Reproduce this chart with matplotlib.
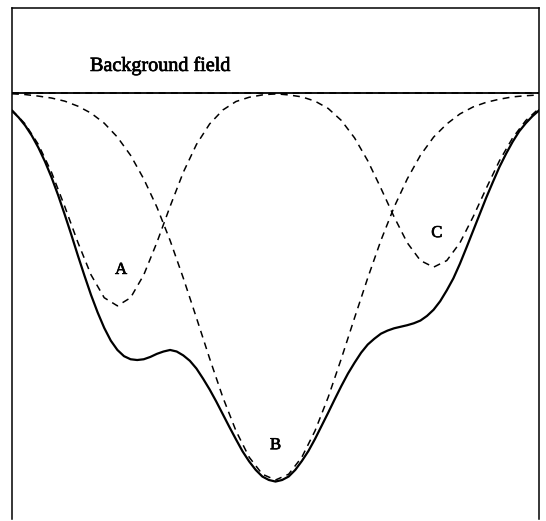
import numpy as np
import matplotlib
matplotlib.use("Agg")
import matplotlib.pyplot as plt
import matplotlib.patheffects as pe


# Posiciones a lo largo del perfil (unidades arbitrarias, 0 a 100).
x = np.arange(0, 100.1, 2.5)        # curvas a trazos
x_fino = np.arange(0, 100.1, 1.25)  # curva total

# Anomalias individuales (curvas a trazos).
anom_A = [-0.44, -0.80, -1.33, -2.05, -2.93, -3.86, -4.70, -5.29, -5.50, -5.29,
          -4.70, -3.86, -2.93, -2.05, -1.33, -0.80, -0.44, -0.22, -0.11, -0.05,
          -0.02, -0.01, 0.00, 0.00, 0.00, 0.00, 0.00, 0.00, 0.00, 0.00,
          0.00, 0.00, 0.00, 0.00, 0.00, 0.00, 0.00, 0.00, 0.00, 0.00, 0.00]
anom_B = [-0.02, -0.04, -0.08, -0.13, -0.21, -0.34, -0.52, -0.78, -1.14, -1.61,
          -2.22, -2.95, -3.81, -4.78, -5.81, -6.86, -7.86, -8.73, -9.41, -9.85,
          -10.0, -9.85, -9.41, -8.73, -7.86, -6.86, -5.81, -4.78, -3.81, -2.95,
          -2.22, -1.61, -1.14, -0.80, -0.54, -0.36, -0.24, -0.16, -0.10, -0.07, -0.05]
anom_C = [0.00, 0.00, 0.00, 0.00, 0.00, 0.00, 0.00, 0.00, 0.00, 0.00,
          0.00, 0.00, 0.00, 0.00, 0.00, 0.00, 0.00, 0.00, 0.00, -0.01,
          -0.02, -0.05, -0.10, -0.21, -0.40, -0.71, -1.16, -1.75, -2.46, -3.20,
          -3.87, -4.33, -4.50, -4.33, -3.87, -3.20, -2.46, -1.75, -1.16, -0.71, -0.40]

# Anomalia total (curva continua).
total = [-0.46, -0.63, -0.84, -1.10, -1.41, -1.77, -2.18, -2.64, -3.14, -3.66,
         -4.20, -4.72, -5.22, -5.67, -6.07, -6.40, -6.64, -6.80, -6.88, -6.90,
         -6.88, -6.82, -6.74, -6.68, -6.64, -6.68, -6.78, -6.92, -7.12, -7.38,
         -7.66, -7.97, -8.30, -8.63, -8.95, -9.26, -9.52, -9.74, -9.91, -10.00,
         -10.04, -10.00, -9.91, -9.74, -9.51, -9.25, -8.94, -8.60, -8.26, -7.91,
         -7.57, -7.25, -6.97, -6.71, -6.50, -6.35, -6.22, -6.14, -6.08, -6.04,
         -6.00, -5.95, -5.88, -5.76, -5.60, -5.38, -5.10, -4.79, -4.41, -3.99,
         -3.56, -3.13, -2.70, -2.30, -1.91, -1.57, -1.26, -0.99, -0.78, -0.60, -0.45]

etiquetas = ["A", "B", "C"]
pos_etiquetas = [(20.7, -4.57), (50, -9.1), (80.6, -3.62)]

plt.rcParams["font.family"] = ["Liberation Serif", "DejaVu Serif"]

fig = plt.figure(figsize=(5.46, 5.21), dpi=100)
ax = fig.add_axes([12 / 546, 1 - 519 / 521, 527 / 546, 511 / 521])

ax.axhline(0, color="black", lw=1.3)
estilo = (0, (4.5, 3.5))
ax.plot(x, anom_A, color="black", lw=1.1, linestyle=estilo)
ax.plot(x, anom_B, color="black", lw=1.1, linestyle=estilo)
ax.plot(x, anom_C, color="black", lw=1.1, linestyle=estilo)
ax.plot(x_fino, total, color="black", lw=1.6)

# Trazo un poco mas grueso para el texto, como en el original escaneado.
grueso = [pe.withStroke(linewidth=0.5, foreground="black")]

for txt, (px, py) in zip(etiquetas, pos_etiquetas):
    ax.text(px, py, txt, ha="center", va="center", fontsize=12, path_effects=grueso)

ax.text(14.8, 0.57, "Background field", ha="left", va="baseline", fontsize=14.5,
        path_effects=grueso)

ax.set_xlim(0, 100)
ax.set_ylim(-426 / 38.7, 85 / 38.7)
ax.set_xticks([])
ax.set_yticks([])
for lado in ["left", "top", "right"]:
    ax.spines[lado].set_linewidth(1.1)
ax.spines["bottom"].set_visible(False)

plt.savefig("out.png", dpi=100)
